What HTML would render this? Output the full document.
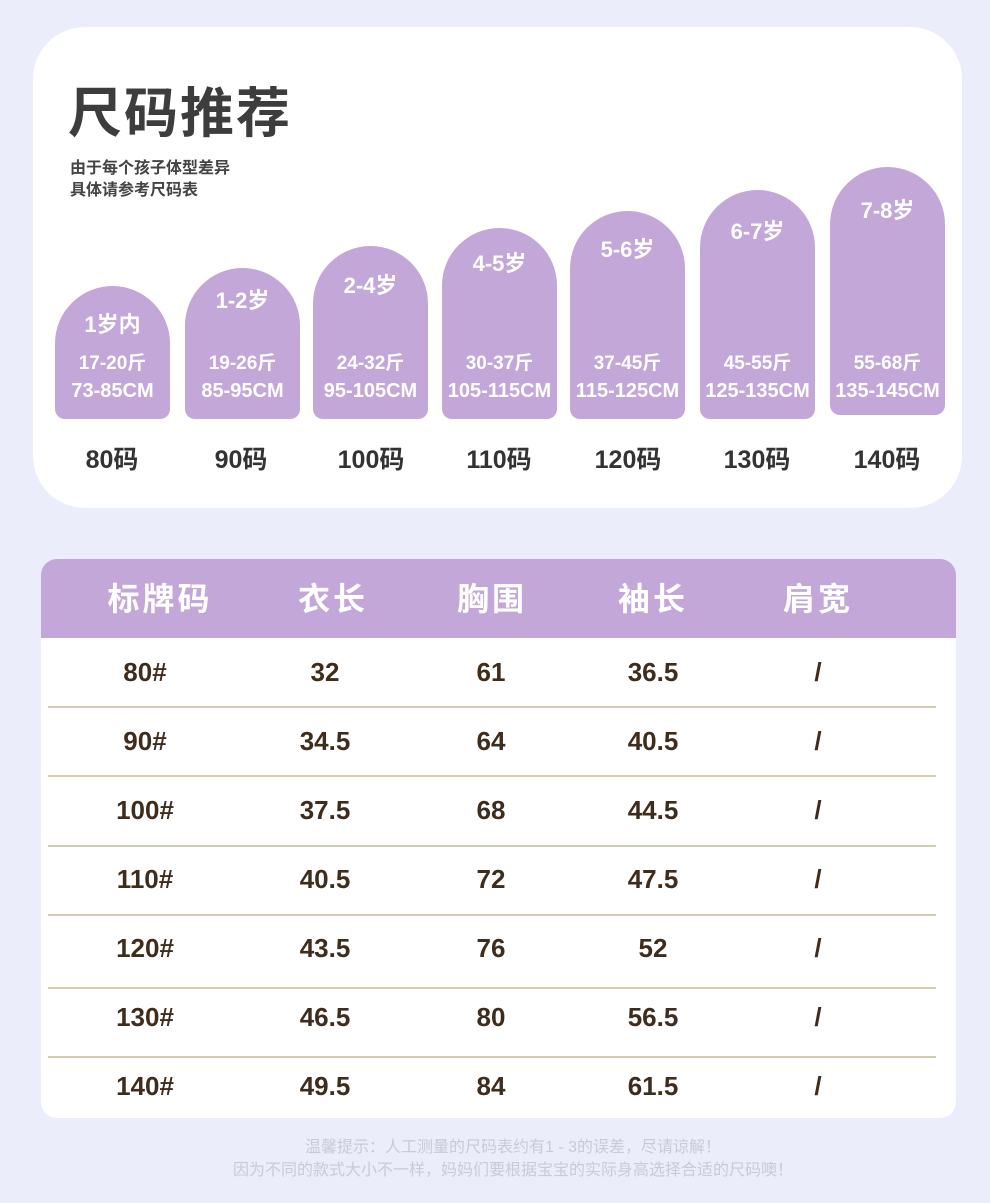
<!DOCTYPE html>
<html><head><meta charset="utf-8"><style>
*{margin:0;padding:0;box-sizing:border-box}
body{width:990px;height:1203px;background:#ecedfb;position:relative;overflow:hidden;font-family:"Liberation Sans","Noto Sans CJK SC",sans-serif}
.card{position:absolute;left:33px;top:27px;width:929px;height:481px;background:#fff;border-radius:52px}
.title{position:absolute;left:68px;top:84px;font-size:54px;font-weight:bold;color:#3d3d3d;letter-spacing:2px;line-height:60px}
.sub{position:absolute;left:70px;top:158px;font-size:16px;font-weight:bold;color:#444;line-height:22px}
.arch{position:absolute;width:115px;background:#c3a7d9;border-radius:57.5px 57.5px 10px 10px}
.t{position:absolute;text-align:center;color:#fff;font-weight:bold;line-height:24px;white-space:nowrap}
.code{position:absolute;width:130px;text-align:center;font-size:25px;font-weight:bold;color:#333;top:440px}
.tbl{position:absolute;left:41px;top:559px;width:915px;height:559px;background:#fff;border-radius:16px;overflow:hidden}
.hd{position:absolute;left:0;top:0;width:100%;height:79px;background:#c3a7d9}
.h{position:absolute;top:18px;font-size:32px;font-weight:bold;color:#fff;width:200px;text-align:center;letter-spacing:3px;line-height:44px}
.c{position:absolute;width:160px;text-align:center;font-size:26px;font-weight:bold;color:#3e2c1c}
.ln{position:absolute;left:7px;width:888px;height:1.5px;background:#d2cdae}
.ft{position:absolute;width:990px;text-align:center;font-size:16px;color:#c9c9d8;left:0}
</style></head><body>
<div class="card"></div>
<div class="title">尺码推荐</div>
<div class="sub">由于每个孩子体型差异<br>具体请参考尺码表</div>

<div class="arch" style="left:55px;top:286px;height:133px"></div>
<div class="arch" style="left:185px;top:268px;height:151px"></div>
<div class="arch" style="left:313px;top:246px;height:173px"></div>
<div class="arch" style="left:442px;top:228px;height:191px"></div>
<div class="arch" style="left:570px;top:211px;height:208px"></div>
<div class="arch" style="left:700px;top:190px;height:229px"></div>
<div class="arch" style="left:830px;top:167px;height:248px"></div>

<div class="t" style="left:55px;width:115px;top:313px;font-size:22px">1岁内</div>
<div class="t" style="left:185px;width:115px;top:289px;font-size:22px">1-2岁</div>
<div class="t" style="left:313px;width:115px;top:274px;font-size:22px">2-4岁</div>
<div class="t" style="left:442px;width:115px;top:252px;font-size:22px">4-5岁</div>
<div class="t" style="left:570px;width:115px;top:238px;font-size:22px">5-6岁</div>
<div class="t" style="left:700px;width:115px;top:220px;font-size:22px">6-7岁</div>
<div class="t" style="left:830px;width:115px;top:199px;font-size:22px">7-8岁</div>

<div class="t" style="left:55px;width:115px;top:352px;font-size:19px">17-20斤</div>
<div class="t" style="left:185px;width:115px;top:352px;font-size:19px">19-26斤</div>
<div class="t" style="left:313px;width:115px;top:352px;font-size:19px">24-32斤</div>
<div class="t" style="left:442px;width:115px;top:352px;font-size:19px">30-37斤</div>
<div class="t" style="left:570px;width:115px;top:352px;font-size:19px">37-45斤</div>
<div class="t" style="left:700px;width:115px;top:352px;font-size:19px">45-55斤</div>
<div class="t" style="left:830px;width:115px;top:352px;font-size:19px">55-68斤</div>

<div class="t" style="left:50px;width:125px;top:379px;font-size:20px">73-85CM</div>
<div class="t" style="left:180px;width:125px;top:379px;font-size:20px">85-95CM</div>
<div class="t" style="left:308px;width:125px;top:379px;font-size:20px">95-105CM</div>
<div class="t" style="left:437px;width:125px;top:379px;font-size:20px">105-115CM</div>
<div class="t" style="left:565px;width:125px;top:379px;font-size:20px">115-125CM</div>
<div class="t" style="left:695px;width:125px;top:379px;font-size:20px">125-135CM</div>
<div class="t" style="left:825px;width:125px;top:379px;font-size:20px">135-145CM</div>

<div class="code" style="left:47px">80码</div>
<div class="code" style="left:176px">90码</div>
<div class="code" style="left:306px">100码</div>
<div class="code" style="left:434px">110码</div>
<div class="code" style="left:563px">120码</div>
<div class="code" style="left:692px">130码</div>
<div class="code" style="left:822px">140码</div>

<div class="tbl">
<div class="hd"></div>
<div class="h" style="left:19px">标牌码</div>
<div class="h" style="left:192px">衣长</div>
<div class="h" style="left:351px">胸围</div>
<div class="h" style="left:512px">袖长</div>
<div class="h" style="left:677px">肩宽</div>

<div class="ln" style="top:147px"></div>
<div class="ln" style="top:216px"></div>
<div class="ln" style="top:286px"></div>
<div class="ln" style="top:355px"></div>
<div class="ln" style="top:428px"></div>
<div class="ln" style="top:497px"></div>
</div>

<div style="position:absolute;left:0;top:0">
<div class="c" style="left:65px;top:657px">80#</div><div class="c" style="left:245px;top:657px">32</div><div class="c" style="left:411px;top:657px">61</div><div class="c" style="left:573px;top:657px">36.5</div><div class="c" style="left:738px;top:657px">/</div>
<div class="c" style="left:65px;top:726px">90#</div><div class="c" style="left:245px;top:726px">34.5</div><div class="c" style="left:411px;top:726px">64</div><div class="c" style="left:573px;top:726px">40.5</div><div class="c" style="left:738px;top:726px">/</div>
<div class="c" style="left:65px;top:795px">100#</div><div class="c" style="left:245px;top:795px">37.5</div><div class="c" style="left:411px;top:795px">68</div><div class="c" style="left:573px;top:795px">44.5</div><div class="c" style="left:738px;top:795px">/</div>
<div class="c" style="left:65px;top:864px">110#</div><div class="c" style="left:245px;top:864px">40.5</div><div class="c" style="left:411px;top:864px">72</div><div class="c" style="left:573px;top:864px">47.5</div><div class="c" style="left:738px;top:864px">/</div>
<div class="c" style="left:65px;top:933px">120#</div><div class="c" style="left:245px;top:933px">43.5</div><div class="c" style="left:411px;top:933px">76</div><div class="c" style="left:573px;top:933px">52</div><div class="c" style="left:738px;top:933px">/</div>
<div class="c" style="left:65px;top:1002px">130#</div><div class="c" style="left:245px;top:1002px">46.5</div><div class="c" style="left:411px;top:1002px">80</div><div class="c" style="left:573px;top:1002px">56.5</div><div class="c" style="left:738px;top:1002px">/</div>
<div class="c" style="left:65px;top:1071px">140#</div><div class="c" style="left:245px;top:1071px">49.5</div><div class="c" style="left:411px;top:1071px">84</div><div class="c" style="left:573px;top:1071px">61.5</div><div class="c" style="left:738px;top:1071px">/</div>
</div>

<div class="ft" style="top:1133px;left:18px">温馨提示：人工测量的尺码表约有1 - 3的误差，尽请谅解！</div>
<div class="ft" style="top:1156px;left:18px">因为不同的款式大小不一样，妈妈们要根据宝宝的实际身高选择合适的尺码噢！</div>
</body></html>
